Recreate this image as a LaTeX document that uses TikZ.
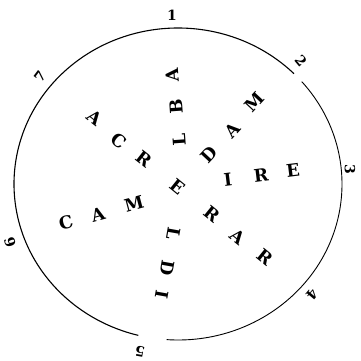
\documentclass[tikz,border=0pt]{standalone}
\usepackage{fontspec}
\usepackage{tikz}
\newfontfamily\slabfont{DejaVu Serif}

\begin{document}
\begin{tikzpicture}[
  x=1pt, y=1pt,
  ltr/.style={font=\slabfont\fontsize{17.5}{17.5}\selectfont\bfseries, inner sep=0pt},
  num/.style={font=\slabfont\fontsize{14}{14}\selectfont\bfseries, inner sep=0pt},
  rim/.style={line width=1.1pt}
]
\useasboundingbox (0,0) rectangle (360,361);
\coordinate (ctr) at (178,177);
% the rim, broken at 2 and 5
\draw[rim] ([shift={(45:164 and 156)}]ctr) arc[start angle=45, end angle=256, x radius=164, y radius=156];
\draw[rim, line width=0.9pt] ([shift={(266:164 and 156)}]ctr) arc[start angle=266, end angle=401, x radius=164, y radius=156];
% numbers round the rim
\node[num] (n1) at (172,346) {1};
\node[num, rotate=-50] (n2) at (301,300) {2};
\node[num, rotate=-90] (n3) at (350,192) {3};
\node[num, rotate=-130] (n4) at (312,66) {4};
\node[num, rotate=170] (n5) at (140,9) {5};
\node[num, rotate=108] (n6) at (10,119) {6};
\node[num, rotate=53] (n7) at (40,284) {7};
% the middle letter
\node[ltr, rotate=-39] (mid) at (178,174) {E};
% arm 1
\node[ltr, rotate=94] (a1) at (172,286) {A};
\node[ltr, rotate=94] (b1) at (176,254) {B};
\node[ltr, rotate=94] (c1) at (179,221) {L};
% arm 2
\node[ltr, rotate=47] (a2) at (209,206) {D};
\node[ltr, rotate=47] (b2) at (232,231) {A};
\node[ltr, rotate=47] (c2) at (254,259) {M};
% arm 3
\node[ltr, rotate=7] (a3) at (228,181) {I};
\node[ltr, rotate=7] (b3) at (261,186) {R};
\node[ltr, rotate=7] (c3) at (293,191) {E};
% arm 4
\node[ltr, rotate=-39] (a4) at (212,147) {R};
\node[ltr, rotate=-39] (b4) at (238,124) {A};
\node[ltr, rotate=-39] (c4) at (265,104) {R};
% arm 5
\node[ltr, rotate=-100] (a5) at (174,127) {L};
\node[ltr, rotate=-100] (b5) at (167,93) {D};
\node[ltr, rotate=-100] (c5) at (162,66) {I};
% arm 6
\node[ltr, rotate=15] (a6) at (66,138) {C};
\node[ltr, rotate=15] (b6) at (98,146) {A};
\node[ltr, rotate=15] (c6) at (134,157) {M};
% arm 7
\node[ltr, rotate=-38] (a7) at (95,243) {A};
\node[ltr, rotate=-38] (b7) at (119,220) {C};
\node[ltr, rotate=-38] (c7) at (144,202) {R};
\end{tikzpicture}
\end{document}
